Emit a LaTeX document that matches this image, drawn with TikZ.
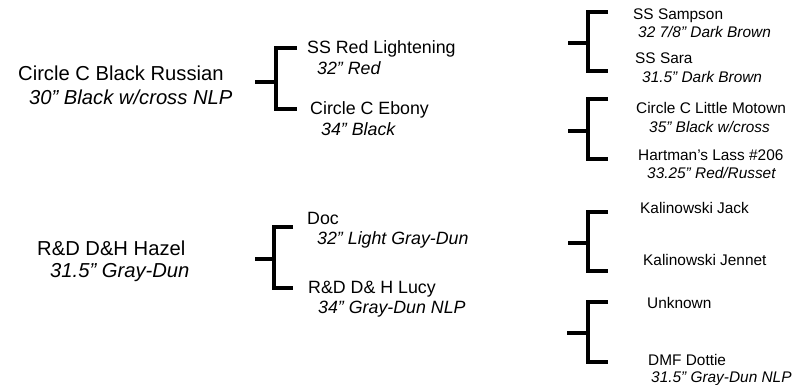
\documentclass[tikz,border=0pt]{standalone}
\usepackage{fontspec}
\setmainfont{Liberation Sans}
\begin{document}
\begin{tikzpicture}[x=1pt,y=-1pt,
  bk/.style={line width=3.2pt,line cap=butt,line join=miter},
  lone/.style={anchor=base west,inner sep=0pt,font=\fontsize{20.2}{22}\selectfont},
  lonei/.style={lone,font=\fontsize{20.2}{22}\selectfont\itshape},
  ltwo/.style={anchor=base west,inner sep=0pt,font=\fontsize{17.8}{20}\selectfont},
  ltwoi/.style={ltwo,font=\fontsize{17.8}{20}\selectfont\itshape},
  lthree/.style={anchor=base west,inner sep=0pt,font=\fontsize{15.4}{18}\selectfont},
  lthreei/.style={lthree,font=\fontsize{15.4}{18}\selectfont\itshape}]
\useasboundingbox (0,0) rectangle (810,384);
% level 1
\node[lone] (a) at (18,80) {Circle C Black Russian};
\node[lonei] (ad) at (29,104) {30” Black w/cross NLP};
\node[lone] (b) at (37,255) {R\&D D\&H Hazel};
\node[lonei] (bd) at (50,277) {31.5” Gray-Dun};
% level 2
\node[ltwo] (a1) at (307,53) {SS Red Lightening};
\node[ltwoi] (a1d) at (317,74) {32” Red};
\node[ltwo] (a2) at (310,114) {Circle C Ebony};
\node[ltwoi] (a2d) at (321,135) {34” Black};
\node[ltwo] (b1) at (307,224) {Doc};
\node[ltwoi] (b1d) at (317,244) {32” Light Gray-Dun};
\node[ltwo] (b2) at (308,293) {R\&D D\& H Lucy};
\node[ltwoi] (b2d) at (318,313) {34” Gray-Dun NLP};
% level 3
\node[lthree] (a11) at (633,19) {SS Sampson};
\node[lthreei] (a11d) at (638,37) {32 7/8” Dark Brown};
\node[lthree] (a12) at (635,63) {SS Sara};
\node[lthreei] (a12d) at (642,82) {31.5” Dark Brown};
\node[lthree] (a21) at (636,113) {Circle C Little Motown};
\node[lthreei] (a21d) at (649,132) {35” Black w/cross};
\node[lthree] (a22) at (638,160) {Hartman’s Lass \#206};
\node[lthreei] (a22d) at (647,178) {33.25” Red/Russet};
\node[lthree] (b11) at (640,213) {Kalinowski Jack};
\node[lthree] (b12) at (643,265) {Kalinowski Jennet};
\node[lthree] (b21) at (647,308) {Unknown};
\node[lthree] (b22) at (648,365) {DMF Dottie};
\node[lthreei] (b22d) at (651,382) {31.5” Gray-Dun NLP};
% brackets: stub start, spine x, top y, bottom y, arm end, mid y
\foreach \n/\sx/\vx/\ty/\by/\ax/\my in {
  ba/255/276/48/109/297/82,
  bb/255/274/227/288/293/259,
  ca/568/588/12/71/608/43,
  cb/568/588/99/159/608/131,
  cc/568/588/212/271/608/243,
  cd/567/588/302/362/608/333}{
  \coordinate (\n s) at (\sx,\my);
  \coordinate (\n m) at (\vx,\my);
  \coordinate (\n t) at (\vx,\ty);
  \coordinate (\n b) at (\vx,\by);
  \coordinate (\n ta) at (\ax,\ty);
  \coordinate (\n ba) at (\ax,\by);
  \draw[bk] (\n s) -- (\n m);
  \draw[bk] (\n ta) -- (\n t) -- (\n b) -- (\n ba);
}
\end{tikzpicture}
\end{document}
